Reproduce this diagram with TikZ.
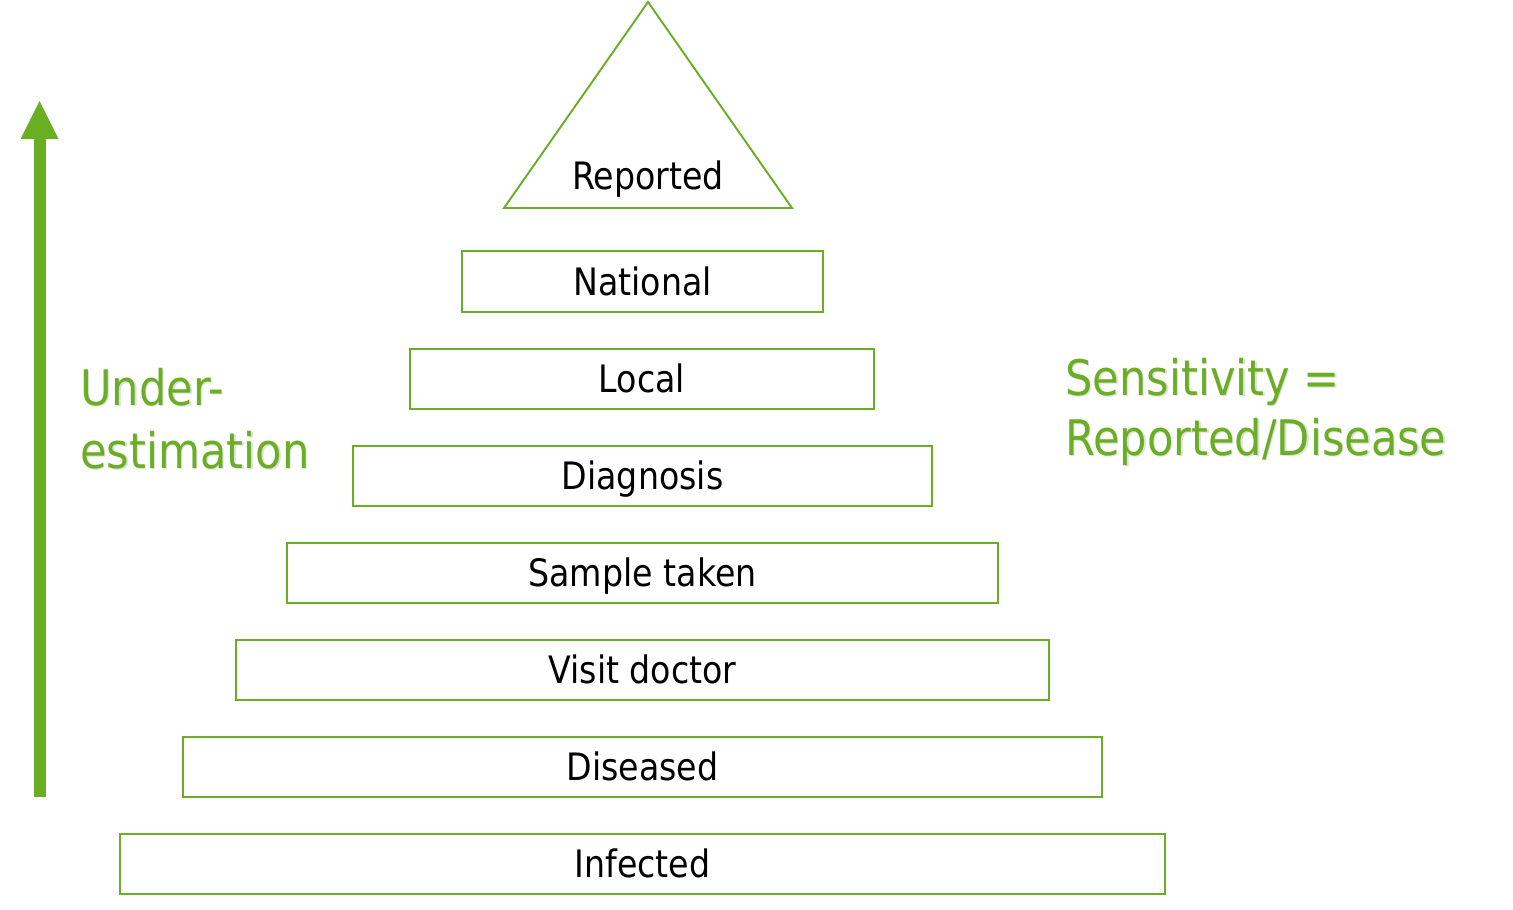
\documentclass[tikz,border=0pt]{standalone}
\usepackage{fontspec}
\setmainfont[FakeStretch=0.88]{DejaVu Sans}
\definecolor{lgreen}{HTML}{6AAF23}
\begin{document}
\begin{tikzpicture}[x=0.02cm,y=-0.02cm,
  box/.style={draw=lgreen,line width=1.1pt,inner sep=0pt,minimum height=1.2cm,
    font=\fontsize{21.5}{26}\selectfont,text height=15.7pt,text depth=0pt},
  lbl/.style={inner sep=0pt,font=\fontsize{21.5}{26}\selectfont,text height=15.7pt,text depth=0pt},
  gtxt/.style={inner sep=0pt,anchor=base west,text=lgreen,font=\fontsize{27.9}{34}\selectfont},
  gshadow/.style={inner sep=0pt,anchor=base west,text=black!13,font=\fontsize{27.9}{34}\selectfont}]
\useasboundingbox (0,0) rectangle (1513,909);
% triangle
\draw[lgreen,line width=1.1pt,line join=miter] (504,208) -- (648,2) -- (792,208) -- cycle;
\node[lbl] (rep) at (648,176) {Reported};
% boxes
\node[box,minimum width=7.22cm,minimum height=1.22cm] (nat) at (642.5,281.5) {National};
\node[box,minimum width=9.28cm] (loc) at (642,379) {Local};
\node[box,minimum width=11.58cm] (dia) at (642.5,476) {Diagnosis};
\node[box,minimum width=14.22cm] (sam) at (642.5,573) {Sample taken};
\node[box,minimum width=16.26cm] (vis) at (642.5,670) {Visit doctor};
\node[box,minimum width=18.38cm] (dis) at (642.5,767) {Diseased};
\node[box,minimum width=20.9cm] (inf) at (642.5,864) {Infected};
% arrow
\fill[lgreen] (33.5,797) rectangle (45.5,138);
\fill[lgreen] (20.5,139) -- (39.5,101) -- (58.5,139) -- cycle;
% green texts with shadow
\node[gshadow] (u1s) at (81.5,406.5) {Under-};
\node[gshadow] (u2s) at (81.5,469.5) {estimation};
\node[gshadow] (s1s) at (1066.5,396.5) {Sensitivity =};
\node[gshadow] (s2s) at (1066.5,456.5) {Reported/Disease};
\node[gtxt] (u1) at (80,405) {Under-};
\node[gtxt] (u2) at (80,468) {estimation};
\node[gtxt] (s1) at (1065,395) {Sensitivity =};
\node[gtxt] (s2) at (1065,455) {Reported/Disease};
\end{tikzpicture}
\end{document}
